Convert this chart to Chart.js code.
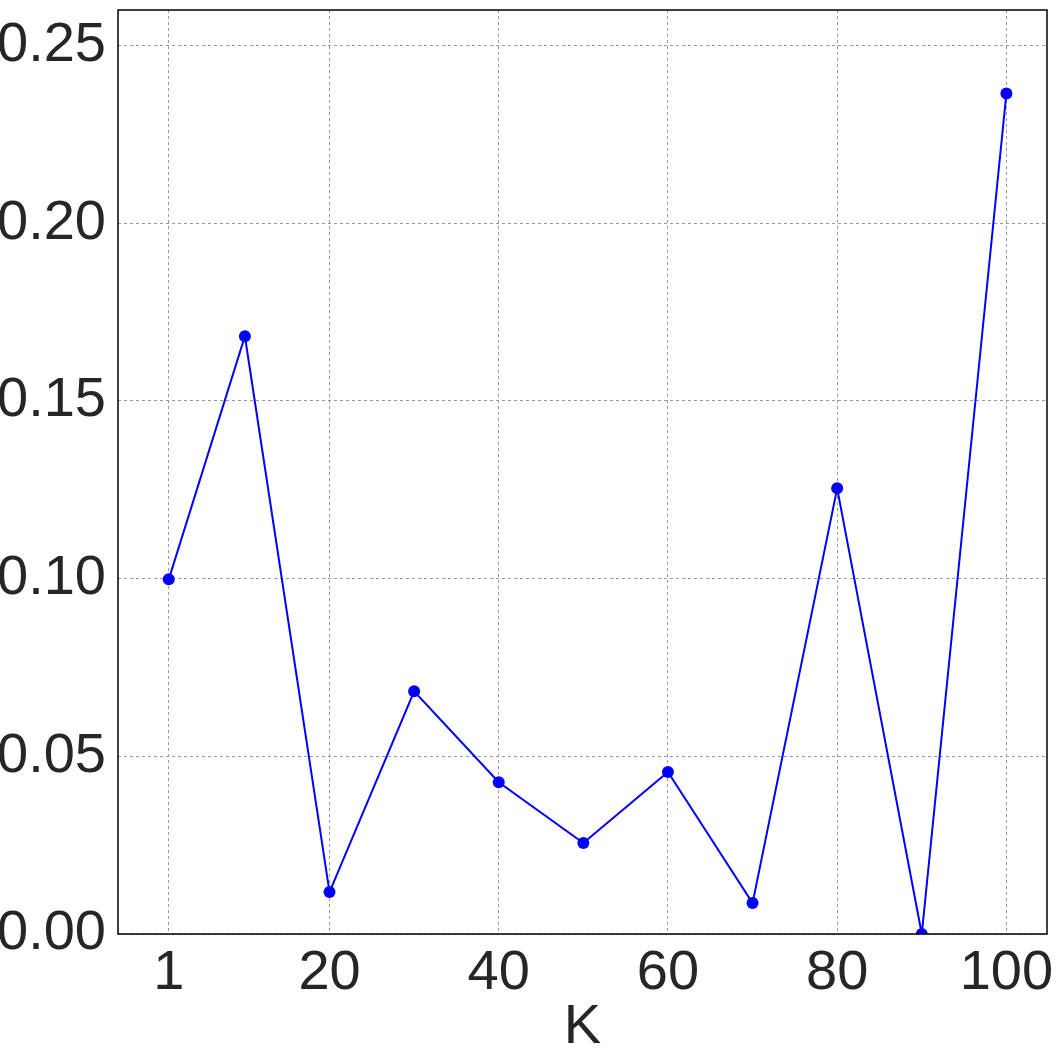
<!DOCTYPE html>
<html lang="en">
<head>
  <meta charset="UTF-8">
  <title>K chart</title>
  <style>
    html, body { margin: 0; padding: 0; background: #fff; }
    #wrap { width: 1061px; height: 1061px; position: relative; }
  </style>
  <script src="https://cdn.jsdelivr.net/npm/chart.js"></script>
</head>
<body>
  <div id="wrap"><canvas id="chart" width="1061" height="1061"></canvas></div>
  <script>
    // Data
    var kValues = [1, 10, 20, 30, 40, 50, 60, 70, 80, 90, 100];
    var scores = [0.0998, 0.1682, 0.0118, 0.0683, 0.0427, 0.0256, 0.0456, 0.0087, 0.1254, 0.0, 0.2365];
    var xTicks = [1, 20, 40, 60, 80, 100];
    var yTicks = [0, 0.05, 0.10, 0.15, 0.20, 0.25];

    var TEXT = '#262626';
    var FONT = 'Liberation Sans, Arial, sans-serif';

    var points = [];
    for (var i = 0; i < kValues.length; i++) {
      points.push({ x: kValues[i], y: scores[i] });
    }

    // Black frame around the plot area
    var frame = {
      id: 'frame',
      afterDatasetsDraw: function(chart) {
        var a = chart.chartArea, ctx = chart.ctx;
        ctx.save();
        ctx.strokeStyle = '#000';
        ctx.lineWidth = 1.5;
        ctx.strokeRect(a.left, a.top, a.right - a.left, a.bottom - a.top);
        ctx.restore();
      }
    };

    new Chart(document.getElementById('chart'), {
      type: 'line',
      data: {
        datasets: [{
          data: points,
          borderColor: '#0000ff',
          backgroundColor: '#0000ff',
          borderWidth: 2,
          pointRadius: 6,
          pointBorderWidth: 0,
          tension: 0
        }]
      },
      options: {
        responsive: false,
        animation: false,
        layout: { padding: { left: 0, right: 14, top: 10, bottom: 0 } },
        plugins: { legend: { display: false }, tooltip: { enabled: false } },
        scales: {
          x: {
            type: 'linear',
            min: -5,
            max: 104.8,
            afterBuildTicks: function(s) { s.ticks = xTicks.map(function(v) { return { value: v }; }); },
            afterFit: function(s) { s.height = 127; s.paddingLeft = 0; s.paddingRight = 0; },
            grid: { color: '#999', lineWidth: 1, drawTicks: false },
            border: { display: false, dash: [3, 3] },
            ticks: { color: TEXT, font: { family: FONT, size: 56 }, padding: 6, maxRotation: 0, autoSkip: false },
            title: { display: true, text: 'K', color: TEXT, font: { family: FONT, size: 56 }, padding: { top: -18, bottom: 0 } }
          },
          y: {
            min: 0,
            max: 0.26,
            afterBuildTicks: function(s) { s.ticks = yTicks.map(function(v) { return { value: v }; }); },
            afterFit: function(s) { s.width = 118; s.paddingTop = 0; s.paddingBottom = 0; },
            grid: { color: '#999', lineWidth: 1, drawTicks: false },
            border: { display: false, dash: [3, 3] },
            ticks: {
              color: TEXT, font: { family: FONT, size: 56 }, padding: 12,
              callback: function(v) { return v.toFixed(2); }
            }
          }
        }
      },
      plugins: [frame]
    });
  </script>
</body>
</html>
